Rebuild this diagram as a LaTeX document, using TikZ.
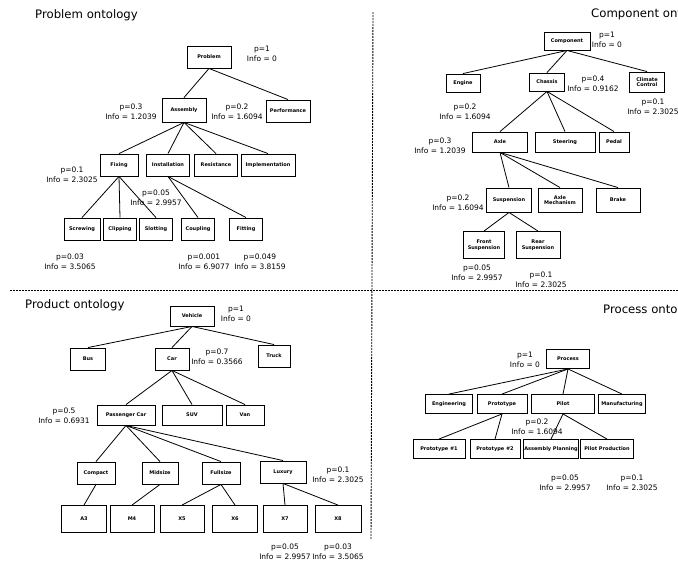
\documentclass[tikz,border=0pt]{standalone}
\usepackage{fontspec}
\setmainfont{DejaVu Sans}
\begin{document}
\begin{tikzpicture}[x=1pt,y=-1pt,
  bx/.style={draw, line width=0.9pt, inner sep=0.5pt, align=center,
    font=\fontsize{5}{5.6}\selectfont\bfseries},
  lbl/.style={align=center, inner sep=0pt, font=\fontsize{7.5}{10}\selectfont},
  ttl/.style={anchor=west, inner sep=0pt, font=\fontsize{11.7}{13}\selectfont},
  edge/.style={line width=0.8pt},
  sepline/.style={line width=0.9pt, dash pattern=on 2pt off 1pt}]
\useasboundingbox (0,0) rectangle (678,566);
\clip (0,0) rectangle (678,566);

% separators
\draw[sepline] (10,290) -- (678,290);
\draw[sepline] (373,12) -- (371,540);

% ---------------- Problem ontology ----------------
\node[ttl] (tprob) at (35,15) {Problem ontology};
\node[bx,minimum width=44pt,minimum height=22pt] (problem) at (209,57) {Problem};
\node[bx,minimum width=44pt,minimum height=24pt] (assembly) at (184,110) {Assembly};
\node[bx,minimum width=44pt,minimum height=22pt] (perf) at (288,111) {Performance};
\node[bx,minimum width=38pt,minimum height=22pt] (fixing) at (119,165) {Fixing};
\node[bx,minimum width=43pt,minimum height=22pt] (install) at (168,165) {Installation};
\node[bx,minimum width=43pt,minimum height=22pt] (resist) at (216,165) {Resistance};
\node[bx,minimum width=54pt,minimum height=22pt] (implem) at (268,165) {Implementation};
\node[bx,minimum width=36pt,minimum height=22pt] (screw) at (82,229) {Screwing};
\node[bx,minimum width=33pt,minimum height=22pt] (clip) at (120,229) {Clipping};
\node[bx,minimum width=33pt,minimum height=22pt] (slot) at (156,229) {Slotting};
\node[bx,minimum width=33pt,minimum height=22pt] (coupl) at (198,229) {Coupling};
\node[bx,minimum width=33pt,minimum height=22pt] (fitting) at (246,229) {Fitting};
\foreach \a/\b in {problem/assembly,problem/perf,assembly/fixing,assembly/install,
  assembly/resist,assembly/implem,fixing/screw,fixing/clip,fixing/slot,install/coupl,install/fitting}
  \draw[edge] (\a.south) -- (\b.north);
\node[lbl] (l1) at (262,54) {p=1\\Info = 0};
\node[lbl] (l2) at (131,112) {p=0.3\\Info = 1.2039};
\node[lbl] (l3) at (237,112) {p=0.2\\Info = 1.6094};
\node[lbl] (l4) at (72,175) {p=0.1\\Info = 2.3025};
\node[lbl] (l5) at (156,198) {p=0.05\\Info = 2.9957};
\node[lbl] (l6) at (70,262) {p=0.03\\Info = 3.5065};
\node[lbl] (l7) at (204,262) {p=0.001\\Info = 6.9077};
\node[lbl] (l8) at (260,262) {p=0.049\\Info = 3.8159};

% ---------------- Component ontology ----------------
\node[ttl] (tcomp) at (591,14) {Component ontology};
\node[bx,minimum width=46pt,minimum height=18pt] (comp) at (567,41) {Component};
\node[bx,minimum width=34pt,minimum height=18pt] (engine) at (463,83) {Engine};
\node[bx,minimum width=35pt,minimum height=18pt] (chassis) at (547,82) {Chassis};
\node[bx,minimum width=35pt,minimum height=20pt] (climate) at (647,82) {Climate\\Control};
\node[bx,minimum width=55pt,minimum height=20pt] (axle) at (500,142) {Axle};
\node[bx,minimum width=60pt,minimum height=20pt] (steer) at (565,142) {Steering};
\node[bx,minimum width=30pt,minimum height=20pt] (pedal) at (614,142) {Pedal};
\node[bx,minimum width=45pt,minimum height=24pt] (susp) at (509,200) {Suspension};
\node[bx,minimum width=44pt,minimum height=24pt] (axmech) at (560,200) {Axle\\Mechanism};
\node[bx,minimum width=44pt,minimum height=24pt] (brake) at (618,200) {Brake};
\node[bx,minimum width=41pt,minimum height=27pt] (front) at (484,245) {Front\\Suspension};
\node[bx,minimum width=44pt,minimum height=27pt] (rear) at (538,245) {Rear\\Suspension};
\foreach \a/\b in {comp/engine,comp/chassis,comp/climate,chassis/axle,chassis/steer,chassis/pedal,
  axle/susp,axle/axmech,axle/brake,susp/front,susp/rear}
  \draw[edge] (\a.south) -- (\b.north);
\node[lbl] (m1) at (607,40) {p=1\\Info = 0};
\node[lbl] (m2) at (593,84) {p=0.4\\Info = 0.9162};
\node[lbl] (m3) at (465,112) {p=0.2\\Info = 1.6094};
\node[lbl] (m4) at (653,107) {p=0.1\\Info = 2.3025};
\node[lbl] (m5) at (440,146) {p=0.3\\Info = 1.2039};
\node[lbl] (m6) at (458,203) {p=0.2\\Info = 1.6094};
\node[lbl] (m7) at (477,273) {p=0.05\\Info = 2.9957};
\node[lbl] (m8) at (541,280) {p=0.1\\Info = 2.3025};

% ---------------- Product ontology ----------------
\node[ttl] (tprod) at (25,305) {Product ontology};
\node[bx,minimum width=44pt,minimum height=20pt] (vehicle) at (192,316) {Vehicle};
\node[bx,minimum width=35pt,minimum height=22pt] (bus) at (88,359) {Bus};
\node[bx,minimum width=34pt,minimum height=22pt] (car) at (172,359) {Car};
\node[bx,minimum width=32pt,minimum height=22pt] (truck) at (274,356) {Truck};
\node[bx,minimum width=58pt,minimum height=20pt] (pcar) at (126,415) {Passenger Car};
\node[bx,minimum width=60pt,minimum height=20pt] (suv) at (192,415) {SUV};
\node[bx,minimum width=38pt,minimum height=20pt] (van) at (245,415) {Van};
\node[bx,minimum width=38pt,minimum height=22pt] (compact) at (96,473) {Compact};
\node[bx,minimum width=36pt,minimum height=22pt] (midsize) at (160,473) {Midsize};
\node[bx,minimum width=38pt,minimum height=22pt] (fullsize) at (221,473) {Fullsize};
\node[bx,minimum width=46pt,minimum height=22pt] (luxury) at (283,472) {Luxury};
\node[bx,minimum width=45pt,minimum height=27pt] (a3) at (84,519) {A3};
\node[bx,minimum width=44pt,minimum height=27pt] (m4) at (132,519) {M4};
\node[bx,minimum width=44pt,minimum height=27pt] (x5) at (182,519) {X5};
\node[bx,minimum width=45pt,minimum height=27pt] (x6) at (235,519) {X6};
\node[bx,minimum width=44pt,minimum height=27pt] (x7) at (285,519) {X7};
\node[bx,minimum width=46pt,minimum height=27pt] (x8) at (338,519) {X8};
\foreach \a/\b in {vehicle/bus,vehicle/car,vehicle/truck,car/pcar,car/suv,car/van,
  pcar/compact,pcar/midsize,pcar/fullsize,pcar/luxury,compact/a3,midsize/m4,fullsize/x5,fullsize/x6,luxury/x7,luxury/x8}
  \draw[edge] (\a.south) -- (\b.north);
\node[lbl] (n1) at (236,314) {p=1\\Info = 0};
\node[lbl] (n2) at (217,357) {p=0.7\\Info = 0.3566};
\node[lbl] (n3) at (64,416) {p=0.5\\Info = 0.6931};
\node[lbl] (n4) at (338,475) {p=0.1\\Info = 2.3025};
\node[lbl] (n5) at (285,552) {p=0.05\\Info = 2.9957};
\node[lbl] (n6) at (338,552) {p=0.03\\Info = 3.5065};

% ---------------- Process ontology ----------------
\node[ttl] (tproc) at (603,310) {Process ontology};
\node[bx,minimum width=43pt,minimum height=19pt] (process) at (568,359) {Process};
\node[bx,minimum width=47pt,minimum height=19pt] (engin) at (449,404) {Engineering};
\node[bx,minimum width=50pt,minimum height=19pt] (proto) at (502,404) {Prototype};
\node[bx,minimum width=63pt,minimum height=19pt] (pilot) at (563,404) {Pilot};
\node[bx,minimum width=47pt,minimum height=19pt] (manuf) at (622,404) {Manufacturing};
\node[bx,minimum width=52pt,minimum height=19pt] (p1) at (439,449) {Prototype \#1};
\node[bx,minimum width=50pt,minimum height=19pt] (p2) at (495,449) {Prototype \#2};
\node[bx,minimum width=54pt,minimum height=19pt] (aplan) at (551,449) {Assembly Planning};
\node[bx,minimum width=53pt,minimum height=19pt] (pprod) at (607,449) {Pilot Production};
\foreach \a/\b in {process/engin,process/proto,process/pilot,process/manuf,
  proto/p1,proto/p2,pilot/aplan,pilot/pprod}
  \draw[edge] (\a.south) -- (\b.north);
\node[lbl] (o1) at (525,360) {p=1\\Info = 0};
\node[lbl] (o2) at (537,427) {p=0.2\\Info = 1.6094};
\node[lbl] (o3) at (565,483) {p=0.05\\Info = 2.9957};
\node[lbl] (o4) at (632,483) {p=0.1\\Info = 2.3025};
\end{tikzpicture}
\end{document}
